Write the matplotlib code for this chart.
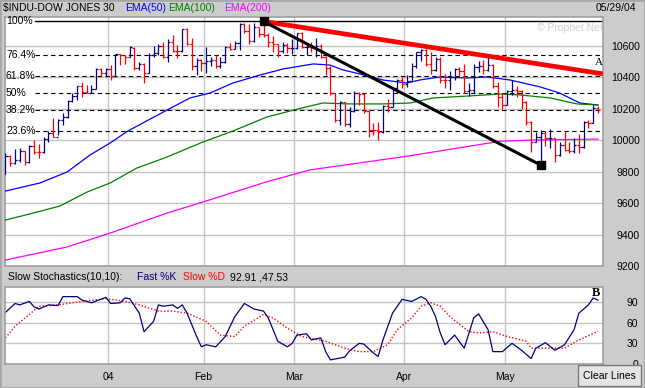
import matplotlib.pyplot as plt
from matplotlib.collections import LineCollection
from matplotlib.patches import Rectangle

plt.rcParams['font.family'] = ['Liberation Sans', 'DejaVu Sans']

# daily bars, one per trading day 2003-12-01 .. 2004-05-28 (index = trading day)
opens = [9782, 9899, 9853, 9873, 9930, 9862, 9965, 9923, 9921, 10008,
         10042, 10022, 10129, 10145, 10248, 10278, 10341, 10305, 10300, 10324,
         10450, 10425, 10453, 10409, 10544, 10538, 10529, 10585, 10458, 10485,
         10427, 10538, 10553, 10600, 10528, 10623, 10568, 10567, 10702, 10609,
         10468, 10510, 10488, 10499, 10505, 10470, 10495, 10593, 10580, 10613,
         10737, 10694, 10628, 10715, 10671, 10665, 10620, 10609, 10566, 10601,
         10581, 10583, 10678, 10591, 10593, 10588, 10595, 10529, 10457, 10296,
         10128, 10240, 10102, 10184, 10300, 10295, 10186, 10064, 10063, 10048,
         10218, 10212, 10329, 10381, 10357, 10373, 10470, 10558, 10570, 10480,
         10442, 10515, 10381, 10378, 10397, 10451, 10437, 10314, 10318, 10461,
         10472, 10444, 10478, 10342, 10272, 10225, 10314, 10317, 10310, 10241,
         10117, 9990, 10019, 10045, 10010, 10012, 9906, 9968, 9937, 9932,
         9966, 9958, 10117, 10109, 10205]
highs = [9915, 9905, 9940, 9950, 9930, 9968, 10000, 9975, 10020, 10055,
         10140, 10135, 10170, 10255, 10300, 10345, 10368, 10349, 10349, 10457,
         10457, 10460, 10476, 10548, 10545, 10540, 10595, 10590, 10495, 10490,
         10552, 10597, 10610, 10622, 10641, 10667, 10603, 10705, 10710, 10648,
         10521, 10515, 10590, 10527, 10540, 10527, 10600, 10615, 10629, 10743,
         10740, 10735, 10740, 10720, 10753, 10680, 10660, 10610, 10620, 10615,
         10640, 10680, 10685, 10610, 10620, 10650, 10610, 10535, 10470, 10300,
         10245, 10242, 10210, 10310, 10305, 10300, 10190, 10110, 10114, 10222,
         10260, 10337, 10385, 10400, 10413, 10489, 10560, 10580, 10575, 10560,
         10525, 10530, 10420, 10440, 10460, 10465, 10480, 10360, 10480, 10500,
         10510, 10530, 10480, 10370, 10300, 10320, 10381, 10340, 10320, 10250,
         10120, 10050, 10063, 10060, 10070, 10013, 9990, 10060, 9990, 10010,
         10040, 10120, 10127, 10222, 10215]
lows = [9782, 9835, 9850, 9860, 9840, 9855, 9910, 9885, 9915, 9985,
        10020, 10030, 10095, 10140, 10240, 10255, 10273, 10298, 10300, 10324,
        10405, 10400, 10381, 10400, 10476, 10483, 10527, 10444, 10444, 10362,
        10425, 10527, 10540, 10521, 10495, 10560, 10521, 10560, 10605, 10444,
        10413, 10438, 10425, 10470, 10460, 10460, 10490, 10571, 10575, 10571,
        10680, 10610, 10625, 10655, 10655, 10590, 10560, 10530, 10550, 10550,
        10545, 10580, 10585, 10540, 10560, 10530, 10520, 10413, 10286, 10114,
        10095, 10090, 10085, 10178, 10220, 10170, 10019, 10030, 10000, 10045,
        10180, 10210, 10300, 10330, 10337, 10370, 10457, 10500, 10470, 10420,
        10440, 10362, 10330, 10320, 10380, 10400, 10300, 10280, 10300, 10430,
        10420, 10440, 10330, 10210, 10200, 10220, 10286, 10270, 10200, 10095,
        9924, 9985, 9852, 9960, 9950, 9860, 9900, 9930, 9920, 9920,
        9920, 9950, 10076, 10108, 10170]
closes = [9899, 9853, 9873, 9930, 9862, 9965, 9923, 9921, 10008, 10042,
          10022, 10129, 10145, 10248, 10278, 10341, 10305, 10300, 10324, 10450,
          10425, 10453, 10409, 10544, 10538, 10529, 10592, 10458, 10485, 10427,
          10538, 10553, 10600, 10528, 10623, 10568, 10567, 10702, 10609, 10468,
          10510, 10488, 10499, 10505, 10470, 10495, 10593, 10580, 10613, 10737,
          10694, 10628, 10715, 10671, 10665, 10620, 10609, 10566, 10601, 10581,
          10583, 10678, 10591, 10593, 10588, 10595, 10529, 10457, 10296, 10128,
          10240, 10102, 10184, 10300, 10295, 10186, 10064, 10063, 10048, 10218,
          10212, 10329, 10381, 10357, 10373, 10470, 10558, 10570, 10480, 10442,
          10515, 10381, 10378, 10397, 10451, 10437, 10314, 10318, 10461, 10472,
          10444, 10478, 10342, 10272, 10225, 10314, 10317, 10310, 10241, 10117,
          9990, 10019, 10045, 10010, 10012, 9906, 9968, 9937, 9932, 9966,
          9958, 10117, 10109, 10205, 10188]

month_labels = ['04', 'Feb', 'Mar', 'Apr', 'May']
month_first_bar = [22, 42, 61, 84, 105]

ema50_day = [0, 7.2, 12.9, 17.7, 21.9, 25.6, 33.8, 38.6, 42.8, 47.6, 53.3, 58.1,
             64.4, 67.9, 70.6, 74.2, 79.0, 84.0, 86.7, 90.9, 96.6, 100.8, 105.6,
             111.9, 116.0, 120.2, 124.0]
ema50_val = [9676, 9727, 9797, 9905, 9981, 10057, 10190, 10267, 10298, 10362, 10413, 10451,
             10483, 10476, 10445, 10419, 10381, 10362, 10381, 10400, 10394, 10400, 10381,
             10337, 10298, 10235, 10222]
ema100_day = [0, 5.8, 11.4, 17.1, 21.9, 27.5, 33.8, 41.3, 47.6, 54.7, 61.6, 66.4,
              72.1, 79.0, 84.7, 89.5, 96.6, 103.5, 107.7, 114.0, 119.6, 124.0]
ema100_val = [9492, 9536, 9581, 9670, 9727, 9822, 9892, 9987, 10057, 10146, 10200, 10235,
              10229, 10229, 10235, 10267, 10279, 10292, 10286, 10267, 10229, 10222]
ema200_day = [0, 12.9, 21.9, 33.8, 41.3, 54.7, 63.7, 84.7, 103.5, 110.4, 124.0]
ema200_val = [9238, 9321, 9409, 9536, 9606, 9735, 9810, 9900, 9992, 10000, 10006]

fib_high = 10753
fib_low = 9845
fib_ratios = [1.0, 0.764, 0.618, 0.5, 0.382, 0.236]
fib_labels = ['100%', '76.4%', '61.8%', '50%', '38.2%', '23.6%']

# trendlines drawn on the chart: (day, price)
red_line_day = [54, 125.0]
red_line_val = [10753, 10420]
black_line_day = [54, 112]
black_line_val = [10753, 9841]

price_ticks = [9200, 9400, 9600, 9800, 10000, 10200, 10400, 10600]
stoch_ticks = [0, 30, 60, 90]

k_day = [0, 2, 3, 5, 6, 7, 9, 11, 12, 15, 16, 18, 21, 22, 24, 25, 26, 28, 29, 31,
         32, 33, 35, 36, 37, 38, 40, 41, 42, 44, 46, 48, 50, 52, 54, 55, 57, 59, 60, 61,
         63, 64, 66, 67, 68, 71, 72, 74, 75, 77, 78, 79, 81, 83, 85, 87, 88, 89, 90, 91,
         92, 94, 96, 98, 99, 101, 102, 104, 106, 108, 110, 111, 113, 115, 117, 119, 120,
         122, 123, 124]
k_val = [75, 88, 86, 91, 83, 80, 86, 85, 98, 98, 93, 89, 97, 88, 89, 96, 95, 74, 47, 62,
         86, 84, 86, 81, 86, 74, 40, 25, 28, 25, 40, 69, 88, 80, 77, 67, 33, 25, 30, 42,
         44, 35, 38, 18, 6, 10, 19, 30, 29, 16, 11, 35, 74, 94, 91, 98, 94, 84, 69, 45,
         28, 42, 23, 67, 73, 50, 18, 18, 30, 20, 8, 23, 31, 20, 28, 50, 74, 86, 96, 92.91]
d_day = [0, 2, 5, 7, 11, 16, 21, 25, 28, 32, 35, 38, 42, 45, 48, 50, 54, 56, 59, 62,
         67, 71, 74, 77, 80, 82, 85, 87, 89, 91, 93, 97, 99, 102, 105, 109, 110, 113,
         117, 120, 124]
d_val = [38, 55, 72, 84, 86, 91, 95, 91, 86, 77, 77, 74, 62, 42, 40, 55, 72, 67, 52, 40,
         33, 23, 18, 18, 28, 50, 67, 84, 89, 84, 69, 47, 45, 47, 40, 33, 23, 23,
         23, 35, 47.53]

W, H = 645, 388
NAVY = '#000080'
RED = '#ff0000'
GRID = '#c4c4c4'
BG = '#cccccc'
FS = 7.5


def fx(px):
    return px / W


def fy(py):
    return 1 - py / H


fig = plt.figure(figsize=(W / 100, H / 100), dpi=100, facecolor=BG)

# ---------------- price panel ----------------
ax = fig.add_axes([fx(5), fy(266), (603 - 5) / W, (266 - 17) / H])
ax.set_xlim(-0.1, 125.05)
ax.set_ylim(9200, 10781)
month_grid = [m - 0.55 for m in month_first_bar]
ax.set_xticks(month_grid)
ax.set_xticklabels([])
ax.set_yticks(price_ticks)
ax.set_yticklabels([str(v) for v in price_ticks])
ax.yaxis.tick_right()
ax.tick_params(axis='x', length=0)
ax.tick_params(axis='y', length=0, pad=26.5, labelsize=FS)
for lab in ax.get_yticklabels():
    lab.set_ha('right')
ax.grid(True, color=GRID, lw=1.0)
ax.set_axisbelow(True)
for s in ax.spines.values():
    s.set_color('#a0a0a0')
    s.set_linewidth(1.2)

# fibonacci levels
for r, lab in zip(fib_ratios, fib_labels):
    lvl = fib_low + r * (fib_high - fib_low)
    if r == 1.0:
        ax.axhline(lvl, xmin=30 / 598, xmax=1, color='black', lw=1.0, zorder=2)
    else:
        ax.axhline(lvl, xmin=30 / 598, xmax=1, color='black', lw=0.8,
                   linestyle=(0, (4, 3)), zorder=2)
    ax.text(1 / 598, lvl, lab, transform=ax.get_yaxis_transform(), fontsize=FS,
            va='center', ha='left', color='black')

# moving averages
ax.plot(ema50_day, ema50_val, color='#0000ff', lw=0.9, zorder=3)
ax.plot(ema100_day, ema100_val, color='#008000', lw=0.9, zorder=3)
ax.plot(ema200_day, ema200_val, color='#ff00ff', lw=0.9, zorder=3)

# bars
up, dn = [], []
for i in range(len(closes)):
    prev = closes[i - 1] if i > 0 else opens[i]
    segs = up if closes[i] >= prev else dn
    segs.append([(i, lows[i]), (i, highs[i])])
    segs.append([(i - 0.45, opens[i]), (i, opens[i])])
    segs.append([(i, closes[i]), (i + 0.45, closes[i])])
ax.add_collection(LineCollection(up, colors=NAVY, linewidths=0.9, zorder=4))
ax.add_collection(LineCollection(dn, colors=RED, linewidths=0.9, zorder=4))

# trendlines
ax.plot(red_line_day, red_line_val, color=RED, lw=3.4, solid_capstyle='butt', zorder=5)
ax.plot(black_line_day, black_line_val, color='black', lw=2.2, zorder=6)
ax.plot(black_line_day, black_line_val, 's', color='black', ms=5.5, zorder=7)
ax.text(124.2, 10462, 'A', fontsize=8, family=['Liberation Serif', 'DejaVu Serif'],
        ha='center', va='bottom', color='black', zorder=8)

ax.text(1.0, 0.955, '\u00a9 Prophet.Net', transform=ax.transAxes, ha='right', va='center',
        fontsize=FS, color='#d0d0d0')

# ---------------- stochastic panel ----------------
sx = fig.add_axes([fx(5), fy(364), (603 - 5) / W, (364 - 287) / H])
sx.set_xlim(-0.1, 125.05)
sx.set_ylim(0, 112)
sx.set_xticks(month_grid)
sx.set_xticklabels(month_labels)
sx.set_yticks(stoch_ticks)
sx.yaxis.tick_right()
sx.tick_params(axis='x', length=0, pad=5.5, labelsize=FS)
sx.tick_params(axis='y', length=0, pad=25.5, labelsize=FS)
for lab in sx.get_yticklabels():
    lab.set_ha('right')
sx.grid(True, color=GRID, lw=1.0)
sx.set_axisbelow(True)
for s in sx.spines.values():
    s.set_color('#a0a0a0')
    s.set_linewidth(1.2)
sx.plot(d_day, d_val, color=RED, lw=1.0, linestyle=(0, (1, 1.4)))
sx.plot(k_day, k_val, color=NAVY, lw=0.9)
sx.text(123.5, 104, 'B', fontsize=9, fontweight='bold',
        family=['Liberation Serif', 'DejaVu Serif'], ha='center', va='center')

# ---------------- header texts ----------------
ty = fy(8)
fig.text(fx(3), ty, '$INDU-DOW JONES 30', fontsize=FS, va='center', ha='left')
fig.text(fx(125), ty, 'EMA(50)', fontsize=FS, va='center', color='#0000ff')
fig.text(fx(168), ty, 'EMA(100)', fontsize=FS, va='center', color='#008000')
fig.text(fx(224), ty, 'EMA(200)', fontsize=FS, va='center', color='#ff00ff')
fig.text(fx(636), ty, '05/29/04', fontsize=FS, va='center', ha='right')

sy = fy(277)
fig.text(fx(8), sy, 'Slow Stochastics(10,10):', fontsize=FS, va='center')
fig.text(fx(137), sy, 'Fast %K', fontsize=FS, va='center', color=NAVY)
fig.text(fx(183), sy, 'Slow %D', fontsize=FS, va='center', color=RED)
fig.text(fx(230), sy, '92.91 ,47.53', fontsize=FS, va='center')

# clear lines button
fig.patches.append(Rectangle((fx(578), fy(386)), 63 / W, 21 / H, transform=fig.transFigure,
                             facecolor='#e4e4e4', edgecolor='#7a7a7a', lw=1.0))
fig.text(fx(609.5), fy(376), 'Clear Lines', fontsize=FS, ha='center', va='center')

# outer frame
fig.patches.append(Rectangle((0, 0), 1, 1, transform=fig.transFigure, fill=False,
                             edgecolor='#a8a8a8', lw=2.0))

fig.savefig('out.png', dpi=100, facecolor=BG)
